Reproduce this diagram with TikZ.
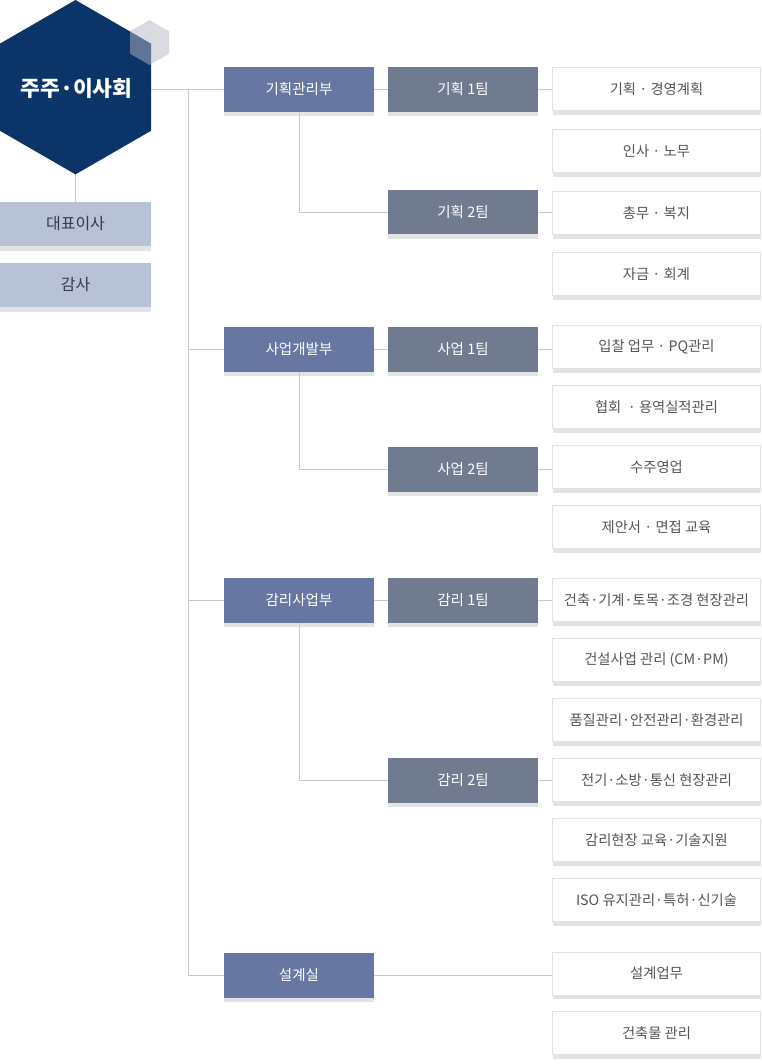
\documentclass[tikz,border=0pt]{standalone}
\usepackage{fontspec}
\setmainfont{Noto Sans CJK KR}
\usetikzlibrary{calc}
\definecolor{navy}{HTML}{0B3469}
\definecolor{deptc}{HTML}{6777A1}
\definecolor{teamc}{HTML}{717B8F}
\definecolor{ceoc}{HTML}{B8C2D7}
\definecolor{ceotxt}{HTML}{343A4C}
\definecolor{linec}{HTML}{C8C8C8}
\definecolor{taskb}{HTML}{E2E2E2}
\definecolor{shadc}{HTML}{E3E3E3}
\definecolor{tasktxt}{HTML}{555555}
\definecolor{smallhex}{RGB}{179,183,195}
\pgfdeclarelayer{bg}
\pgfsetlayers{bg,main}
\begin{document}
\begin{tikzpicture}[x=1pt,y=-1pt,
  box/.style={rectangle, minimum width=150pt, minimum height=44.4pt, inner sep=0pt, outer sep=0pt,
    execute at begin node={\lower1.2pt\hbox\bgroup}, execute at end node={\egroup}},
  dept/.style={box, fill=deptc, text=white, font=\fontsize{14.5}{16}\selectfont},
  team/.style={box, fill=teamc, text=white, font=\fontsize{14.5}{16}\selectfont},
  side/.style={box, minimum width=151pt, fill=ceoc, text=ceotxt, font=\fontsize{16}{18}\selectfont},
  task/.style={box, minimum width=208pt, minimum height=43pt, fill=white, draw=taskb, line width=1pt, text=tasktxt, font=\fontsize{14.3}{16}\selectfont},
  conn/.style={draw=linec, line width=1pt},
  hexlabel/.style={text=white, font=\fontsize{21.5}{24}\bfseries\selectfont, inner sep=0pt}]
\useasboundingbox (0,0) rectangle (761,1064);

% hexagons
\fill[navy] (75.5,0) -- (151,43.6) -- (151,130.8) -- (75.5,174.4) -- (0,130.8) -- (0,43.6) -- cycle;
\fill[smallhex, fill opacity=0.5] (149.5,20) -- (169,31.25) -- (169,53.75) -- (149.5,65) -- (130,53.75) -- (130,31.25) -- cycle;
\node[hexlabel] (hex) at (76.5,88.5) {주주·이사회};
\coordinate (hexR) at (151,90);
\coordinate (hexB) at (75.5,174.4);
\coordinate (spine) at (188.5,90);

% left boxes
\node[side] (ceo) at (75.5,224) {대표이사};
\node[side] (aud) at (75.5,285) {감사};

% departments
\node[dept] (d1) at (299,89.5) {기획관리부};
\node[dept] (d2) at (299,349.5) {사업개발부};
\node[dept] (d3) at (299,600.5) {감리사업부};
\node[dept] (d4) at (299,975.3) {설계실};

% teams
\node[team] (t11) at (463,89.5) {기획 1팀};
\node[team] (t12) at (463,212.3) {기획 2팀};
\node[team] (t21) at (463,349.5) {사업 1팀};
\node[team] (t22) at (463,469.5) {사업 2팀};
\node[team] (t31) at (463,600.5) {감리 1팀};
\node[team] (t32) at (463,780.5) {감리 2팀};

% tasks
\node[task] (k1) at (656.5,89.3) {기획 · 경영계획};
\node[task] (k2) at (656.5,151) {인사 · 노무};
\node[task] (k3) at (656.5,212.7) {총무 · 복지};
\node[task] (k4) at (656.5,274.3) {자금 · 회계};
\node[task] (s1) at (656.5,347) {입찰 업무 · PQ관리};
\node[task] (s2) at (656.5,407) {협회 ~· 용역실적관리};
\node[task] (s3) at (656.5,467) {수주영업};
\node[task] (s4) at (656.5,527) {제안서 · 면접 교육};
\node[task] (g1) at (656.5,600.3) {건축·기계·토목·조경 현장관리};
\node[task] (g2) at (656.5,660.3) {건설사업 관리 (CM·PM)};
\node[task] (g3) at (656.5,720.3) {품질관리·안전관리·환경관리};
\node[task] (g4) at (656.5,780.3) {전기·소방·통신 현장관리};
\node[task] (g5) at (656.5,840.3) {감리현장 교육·기술지원};
\node[task] (g6) at (656.5,900.3) {ISO 유지관리·특허·신기술};
\node[task] (e1) at (656.5,973.5) {설계업무};
\node[task] (e2) at (656.5,1033) {건축물 관리};

% bottom shadows
\begin{pgfonlayer}{bg}
\foreach \n in {ceo,aud,d1,d2,d3,d4,t11,t12,t21,t22,t31,t32,k1,k2,k3,k4,s1,s2,s3,s4,g1,g2,g3,g4,g5,g6,e1,e2}
  \fill[shadc] ([yshift=0.6pt]\n.south west) rectangle ([yshift=-4.4pt]\n.south east);
% connectors
\draw[conn] (hexB) -- (ceo.north);
\draw[conn] (hexR) -- (spine) |- (d4.west);
\foreach \d in {d1,d2,d3}
  \draw[conn] (spine |- \d.west) -- (\d.west);
\draw[conn] (d1.east) -- (d1.east -| t11.west);
\draw[conn] (d2.east) -- (d2.east -| t21.west);
\draw[conn] (d3.east) -- (d3.east -| t31.west);
\draw[conn] (d1.south) |- (t12.west);
\draw[conn] (d2.south) |- (t22.west);
\draw[conn] (d3.south) |- (t32.west);
\draw[conn] (d4.east) -- (d4.east -| e1.west);
\draw[conn] (t11.east) -- (t11.east -| k1.west);
\draw[conn] (t12.east) -- (t12.east -| k3.west);
\draw[conn] (t21.east) -- (t21.east -| s1.west);
\draw[conn] (t22.east) -- (t22.east -| s3.west);
\draw[conn] (t31.east) -- (t31.east -| g1.west);
\draw[conn] (t32.east) -- (t32.east -| g4.west);
\end{pgfonlayer}
\end{tikzpicture}
\end{document}
